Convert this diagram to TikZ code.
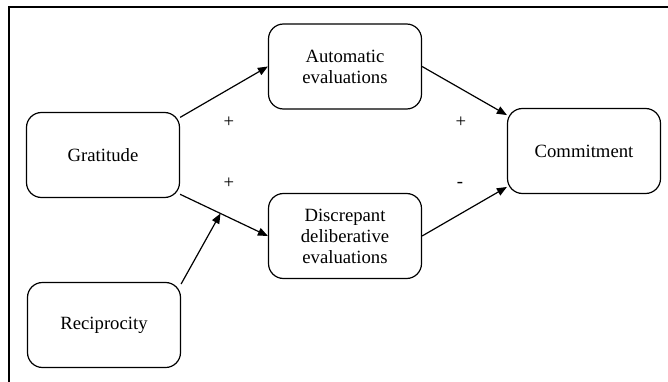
\documentclass[tikz,border=0pt]{standalone}
\usepackage{fontspec}
\setmainfont{Liberation Serif}
\usetikzlibrary{arrows.meta,calc}
\begin{document}
\begin{tikzpicture}[x=1pt,y=-1pt,
  box/.style={draw,line width=1.2pt,rounded corners=15pt,minimum width=153pt,minimum height=85pt,align=center,inner sep=0pt,font=\fontsize{18.7}{21}\selectfont},
  conn/.style={line width=1.2pt,-{Triangle[length=10pt,width=8pt]}},
  sign/.style={inner sep=0pt,font=\fontsize{18.7}{21}\selectfont}]
\useasboundingbox (0,0) rectangle (668,382);
\draw[line width=2pt] (8.5,382) -- (8.5,7.5) -- (668,7.5);
\node[box] (grat) at (103,155) {Gratitude};
\node[box] (rec) at (104,325) {Reciprocity};
\node[box] (auto) at (345,66.5) {Automatic\\evaluations};
\node[box] (disc) at (345,236) {Discrepant\\deliberative\\evaluations};
\node[box] (comm) at (584,151) {Commitment};
\draw[conn] (grat.26) -- (auto.west);
\draw[conn] (grat.-27) -- (disc.west);
\coordinate (mid) at ($(grat.-27)!0.46!(disc.west)$);
\draw[conn] (rec.28) -- (mid);
\draw[conn] (auto.east) -- (comm.155);
\draw[conn] (disc.east) -- (comm.205);
\node[sign] (s1) at (229,122) {+};
\node[sign] (s2) at (229,183) {+};
\node[sign] (s3) at (461,122) {+};
\node[sign] (s4) at (460,185) {-};
\end{tikzpicture}
\end{document}
